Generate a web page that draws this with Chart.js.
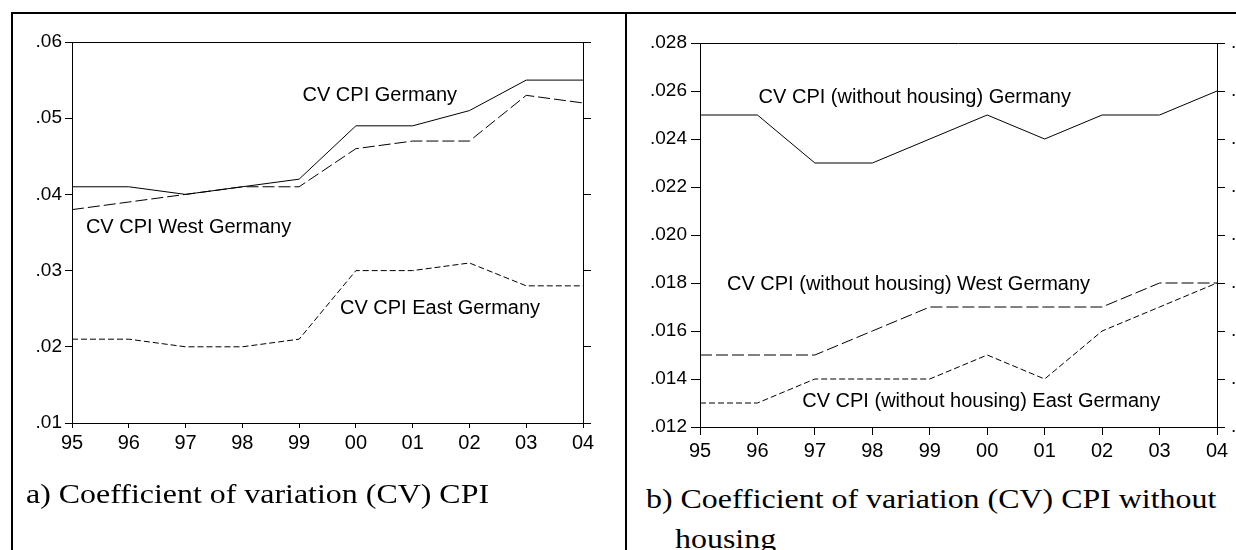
<!DOCTYPE html>
<html>
<head>
<meta charset="utf-8">
<script src="https://cdn.jsdelivr.net/npm/chart.js"></script>
<style>
  html, body { margin: 0; padding: 0; background: #fff; }
  body { position: relative; width: 1236px; height: 550px; overflow: hidden; }
  .rule { position: absolute; background: #000; }
  canvas { position: absolute; }
  .caption {
    position: absolute; white-space: nowrap;
    font: 28px "Liberation Serif", "Times New Roman", serif; line-height: 28px;
    color: #000; transform: scaleX(1.14); transform-origin: 0 0;
  }
</style>
</head>
<body>
<div class="rule" style="left:11px;top:12px;width:1225px;height:2px"></div>
<div class="rule" style="left:11px;top:12px;width:2px;height:538px"></div>
<div class="rule" style="left:625px;top:12px;width:2px;height:538px"></div>

<canvas id="cpi" width="586" height="480" style="left:14px;top:0"></canvas>
<canvas id="cpiNoHousing" width="606" height="480" style="left:630px;top:0"></canvas>

<div class="caption" style="left:26px;top:480px">a) Coefficient of variation (CV) CPI</div>
<div class="caption" style="left:646px;top:485px">b) Coefficient of variation (CV) CPI without</div>
<div class="caption" style="left:675px;top:525px">housing</div>

<script>
const years = ['95', '96', '97', '98', '99', '00', '01', '02', '03', '04'];

// panel a: CV of CPI
const cpiGermany = [0.041, 0.041, 0.040, 0.041, 0.042, 0.049, 0.049, 0.051, 0.055, 0.055];
const cpiWest    = [0.038, 0.039, 0.040, 0.041, 0.041, 0.046, 0.047, 0.047, 0.053, 0.052];
const cpiEast    = [0.021, 0.021, 0.020, 0.020, 0.021, 0.030, 0.030, 0.031, 0.028, 0.028];

// panel b: CV of CPI without housing
const noHousingGermany = [0.025, 0.025, 0.023, 0.023, 0.024, 0.025, 0.024, 0.025, 0.025, 0.026];
const noHousingWest    = [0.015, 0.015, 0.015, 0.016, 0.017, 0.017, 0.017, 0.017, 0.018, 0.018];
const noHousingEast    = [0.013, 0.013, 0.014, 0.014, 0.014, 0.015, 0.014, 0.016, 0.017, 0.018];

const black = '#000';
const tickFont = { family: '"Liberation Sans", Arial, sans-serif', size: 19 };
const yearFont = { family: '"Liberation Sans", Arial, sans-serif', size: 20 };

// draws the in-plot series names and the top edge of the frame
const notesPlugin = {
  id: 'notes',
  afterDraw(chart, args, opts) {
    const { ctx, chartArea, scales: { x, y } } = chart;
    ctx.save();
    ctx.strokeStyle = black;
    ctx.lineWidth = 1;
    ctx.beginPath();
    ctx.moveTo(chartArea.left, Math.round(chartArea.top) + 0.5);
    ctx.lineTo(chartArea.right, Math.round(chartArea.top) + 0.5);
    ctx.stroke();
    ctx.font = '20px "Liberation Sans", Arial, sans-serif';
    ctx.fillStyle = black;
    ctx.textAlign = 'left';
    ctx.textBaseline = 'alphabetic';
    (opts.items || []).forEach(n => {
      ctx.fillText(n.text, x.getPixelForValue(n.at[0]), y.getPixelForValue(n.at[1]));
    });
    ctx.restore();
  }
};

function series(data, dash) {
  return {
    data,
    borderColor: black,
    borderWidth: 1,
    borderDash: dash,
    pointRadius: 0,
    tension: 0,
    fill: false,
  };
}

function makeChart(id, cfg) {
  const fixed = cfg.decimals;
  return new Chart(document.getElementById(id), {
    type: 'line',
    data: {
      labels: years,
      datasets: cfg.datasets,
    },
    options: {
      responsive: false,
      animation: false,
      layout: { padding: { top: cfg.top, left: 0, right: 0, bottom: 0 } },
      plugins: {
        legend: { display: false },
        tooltip: { enabled: false },
        notes: { items: cfg.notes },
      },
      scales: {
        x: {
          grid: { drawOnChartArea: false, color: black, tickLength: cfg.xTick },
          border: { display: true, color: black },
          ticks: { color: black, font: yearFont, padding: cfg.xPad, maxRotation: 0, autoSkip: false },
          afterFit: s => { s.height = cfg.xHeight; },
        },
        y: {
          min: cfg.min, max: cfg.max,
          grid: { drawOnChartArea: false, color: black, tickLength: cfg.yTick },
          border: { display: true, color: black },
          ticks: {
            stepSize: cfg.step, color: black, font: tickFont, padding: cfg.yPad,
            callback: v => v.toFixed(fixed).replace(/^0/, ''),
          },
          afterFit: s => { s.width = cfg.yWidth; },
        },
        y2: {
          position: 'right',
          min: cfg.min, max: cfg.max,
          grid: { drawOnChartArea: false, color: black, tickLength: 8 },
          border: { display: true, color: black },
          ticks: {
            display: cfg.rightLabels, stepSize: cfg.step, color: black, font: tickFont, padding: 6,
            callback: v => v.toFixed(fixed).replace(/^0/, ''),
          },
          afterFit: s => { s.width = cfg.y2Width; },
        },
      },
    },
    plugins: [notesPlugin],
  });
}

makeChart('cpi', {
  datasets: [
    series(cpiGermany, []),
    series(cpiWest, [12, 4]),
    series(cpiEast, [6, 3]),
  ],
  notes: [
    { text: 'CV CPI Germany', at: [4.06, 0.0523] },
    { text: 'CV CPI West Germany', at: [0.245, 0.0349] },
    { text: 'CV CPI East Germany', at: [4.72, 0.0243] },
  ],
  min: 0.01, max: 0.06, step: 0.01, decimals: 2,
  top: 42, xHeight: 57, xTick: 5, xPad: 3,
  yWidth: 58, yTick: 7, yPad: 3,
  y2Width: 17, rightLabels: false,
});

makeChart('cpiNoHousing', {
  datasets: [
    series(noHousingGermany, []),
    series(noHousingWest, [12, 4]),
    series(noHousingEast, [6, 3]),
  ],
  notes: [
    { text: 'CV CPI (without housing) Germany', at: [1.02, 0.02548] },
    { text: 'CV CPI (without housing) West Germany', at: [0.47, 0.01771] },
    { text: 'CV CPI (without housing) East Germany', at: [1.78, 0.01283] },
  ],
  min: 0.012, max: 0.028, step: 0.002, decimals: 3,
  top: 43, xHeight: 53, xTick: 8, xPad: 4,
  yWidth: 70, yTick: 9, yPad: 4,
  y2Width: 19, rightLabels: true,
});
</script>
</body>
</html>
